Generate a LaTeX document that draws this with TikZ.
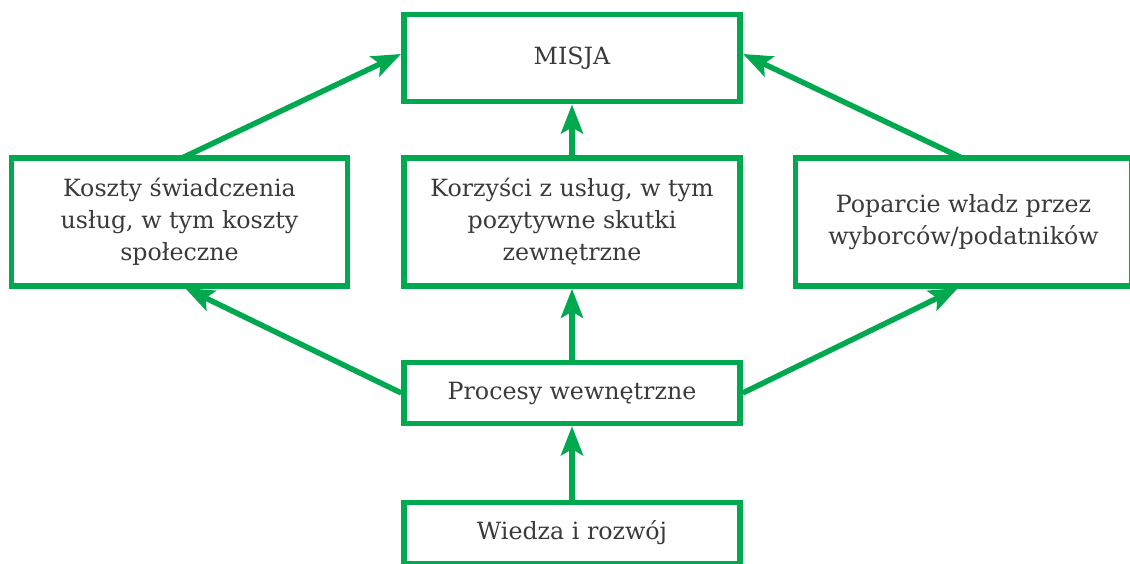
\documentclass[tikz,border=0pt]{standalone}
\usepackage{fontspec}
\setmainfont{DejaVu Serif}
\usepackage{xcolor}
\usetikzlibrary{arrows.meta}
\definecolor{frame-green}{HTML}{00A94F}
\definecolor{text-grey}{HTML}{3A3A3A}

\begin{document}
\begin{tikzpicture}[x=0.02cm, y=-0.02cm,
          every node/.style={font=\fontsize{13.5}{18.2}\selectfont, text=text-grey},
          box/.style={draw=frame-green, line width=0.11cm, fill=white,
            minimum width=6.72cm, align=center, inner sep=0pt},
          link/.style={draw=frame-green, line width=0.11cm,
            -{Stealth[length=0.58cm, width=0.44cm, inset=0.12cm]}}]
      \useasboundingbox (0,0) rectangle (1130,564);
      \node[box, minimum height=1.75cm] (Misja) at (572,58) {MISJA};
      \node[box, minimum height=2.56cm] (Koszty) at (179.5,222)
            {Koszty świadczenia\\usług, w tym koszty\\społeczne};
      \node[box, minimum height=2.56cm] (Korzysci) at (572,222)
            {Korzyści z usług, w tym\\pozytywne skutki\\zewnętrzne};
      \node[box, minimum height=2.56cm] (Poparcie) at (963.5,222)
            {Poparcie władz przez\\wyborców/podatników};
      \node[box, minimum height=1.22cm] (Procesy) at (572,393)
            {Procesy wewnętrzne};
      \node[box, minimum height=1.22cm] (Wiedza) at (572,533)
            {Wiedza i rozwój};
      \coordinate (KosztyTop) at (182,158);
      \coordinate (PoparcieTop) at (962,158);
      \coordinate (KosztyBot) at (185,288);
      \coordinate (PoparcieBot) at (958,288);
      \coordinate (MisjaL) at (401,54);
      \coordinate (MisjaR) at (743,54);
      \draw[link] (KosztyTop) -- (MisjaL);
      \draw[link] (PoparcieTop) -- (MisjaR);
      \draw[link] (Korzysci.north) -- (Misja.south);
      \draw[link] (Procesy.west) -- (KosztyBot);
      \draw[link] (Procesy.east) -- (PoparcieBot);
      \draw[link] (Procesy.north) -- (Korzysci.south);
      \draw[link] (Wiedza.north) -- (Procesy.south);
    \end{tikzpicture}
\end{document}
